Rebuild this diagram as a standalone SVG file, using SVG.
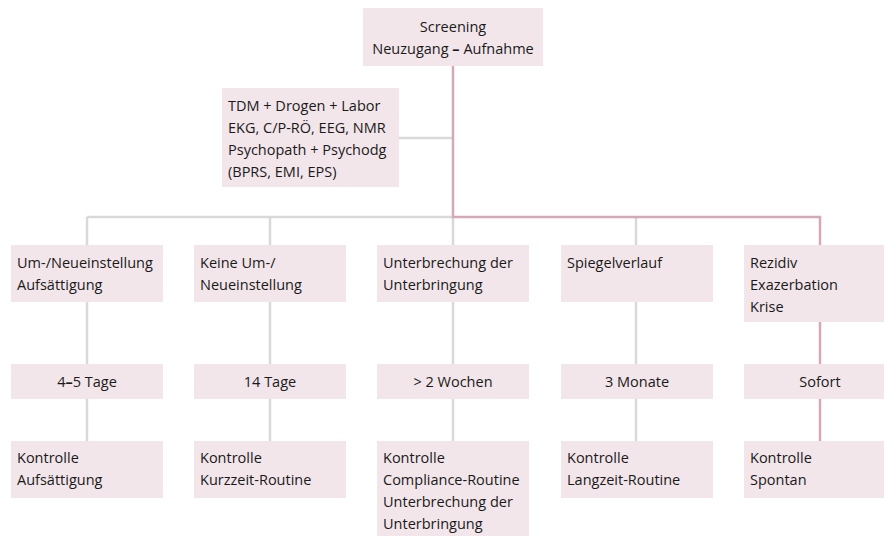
<svg xmlns="http://www.w3.org/2000/svg" width="884" height="536" viewBox="0 0 884 536">
<style>
.box{fill:#f2e6ea;}
.t{font-family:"Open Sans","Noto Sans",sans-serif;font-size:14.5px;fill:#1a1a1a;}
.c{text-anchor:middle;}
.g{stroke:#d9d9d9;stroke-width:2.5;fill:none;}
.p{stroke:#d5a8b8;stroke-width:2.5;fill:none;}
</style>
<rect width="884" height="536" fill="#ffffff"/>
<g id="connectors">
<path class="g" d="M87 217H453M87 217V245M270 217V245M453 217V245M636 217V245M399 138H453"/>
<path class="g" d="M87 302V364M87 399V441M270 302V364M270 399V441M453 302V364M453 399V441M636 302V364M636 399V441"/>
<path class="p" d="M453 66V217H820V245M820 322V364M820 399V441"/>
</g>
<g id="screening">
<rect class="box" x="363" y="8" width="180" height="58"/>
<text class="t c" x="453" y="32">Screening</text>
<text class="t c" x="453" y="54">Neuzugang <tspan font-weight="700">–</tspan> Aufnahme</text>
</g>
<g id="diagnostik">
<rect class="box" x="222" y="88" width="177" height="99"/>
<text class="t" x="228" y="111">TDM + Drogen + Labor</text>
<text class="t" x="228" y="133">EKG, C/P-RÖ, EEG, NMR</text>
<text class="t" x="228" y="155">Psychopath + Psychodg</text>
<text class="t" x="228" y="177">(BPRS, EMI, EPS)</text>
</g>
<g id="k1">
<rect class="box" x="11" y="245" width="152" height="57"/>
<text class="t" x="17" y="268">Um-/Neueinstellung</text>
<text class="t" x="17" y="290">Aufsättigung</text>
</g>
<g id="k2">
<rect class="box" x="194" y="245" width="152" height="57"/>
<text class="t" x="200" y="268">Keine Um-/</text>
<text class="t" x="200" y="290">Neueinstellung</text>
</g>
<g id="k3">
<rect class="box" x="377" y="245" width="152" height="57"/>
<text class="t" x="383" y="268">Unterbrechung der</text>
<text class="t" x="383" y="290">Unterbringung</text>
</g>
<g id="k4">
<rect class="box" x="561" y="245" width="152" height="57"/>
<text class="t" x="567" y="268">Spiegelverlauf</text>
</g>
<g id="k5">
<rect class="box" x="744" y="245" width="152" height="77"/>
<text class="t" x="750" y="268">Rezidiv</text>
<text class="t" x="750" y="290">Exazerbation</text>
<text class="t" x="750" y="312">Krise</text>
</g>
<g id="z1">
<rect class="box" x="11" y="364" width="152" height="35"/>
<text class="t c" x="87" y="387">4<tspan font-weight="700">–</tspan>5 Tage</text>
</g>
<g id="z2">
<rect class="box" x="194" y="364" width="152" height="35"/>
<text class="t c" x="270" y="387">14 Tage</text>
</g>
<g id="z3">
<rect class="box" x="377" y="364" width="152" height="35"/>
<text class="t c" x="453" y="387">&gt; 2 Wochen</text>
</g>
<g id="z4">
<rect class="box" x="561" y="364" width="152" height="35"/>
<text class="t c" x="637" y="387">3 Monate</text>
</g>
<g id="z5">
<rect class="box" x="744" y="364" width="152" height="35"/>
<text class="t c" x="820" y="387">Sofort</text>
</g>
<g id="r1">
<rect class="box" x="11" y="441" width="152" height="57"/>
<text class="t" x="17" y="463">Kontrolle</text>
<text class="t" x="17" y="485">Aufsättigung</text>
</g>
<g id="r2">
<rect class="box" x="194" y="441" width="152" height="57"/>
<text class="t" x="200" y="463">Kontrolle</text>
<text class="t" x="200" y="485">Kurzzeit-Routine</text>
</g>
<g id="r3">
<rect class="box" x="377" y="441" width="152" height="95"/>
<text class="t" x="383" y="463">Kontrolle</text>
<text class="t" x="383" y="485">Compliance-Routine</text>
<text class="t" x="383" y="507">Unterbrechung der</text>
<text class="t" x="383" y="529">Unterbringung</text>
</g>
<g id="r4">
<rect class="box" x="561" y="441" width="152" height="57"/>
<text class="t" x="567" y="463">Kontrolle</text>
<text class="t" x="567" y="485">Langzeit-Routine</text>
</g>
<g id="r5">
<rect class="box" x="744" y="441" width="152" height="57"/>
<text class="t" x="750" y="463">Kontrolle</text>
<text class="t" x="750" y="485">Spontan</text>
</g>
</svg>
